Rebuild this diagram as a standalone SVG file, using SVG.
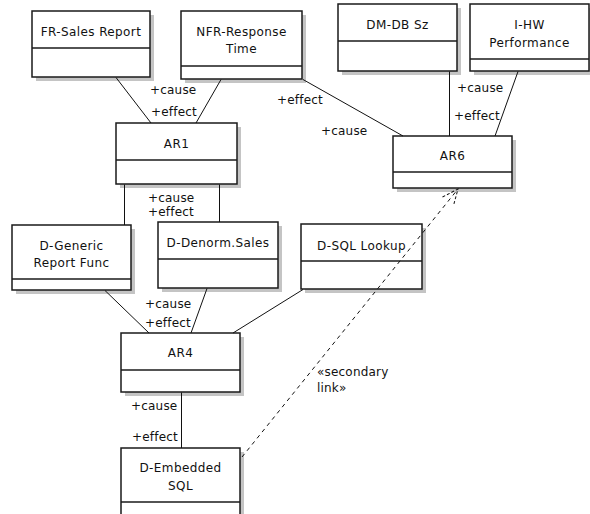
<svg xmlns="http://www.w3.org/2000/svg" width="590" height="514" viewBox="0 0 590 514">
<defs>
<style>
.sh{fill:#c4c4c4;stroke:none}
.bx{fill:#fff;stroke:#1a1a1a;stroke-width:1.5}
.dv{stroke:#1a1a1a;stroke-width:1.5}
.t{font-family:"DejaVu Sans",sans-serif;font-size:12px;letter-spacing:0.4px;fill:#111;text-anchor:middle}
.l{font-family:"DejaVu Sans",sans-serif;font-size:12px;letter-spacing:0.2px;fill:#111}
.c{stroke:#111;stroke-width:1;fill:none}
.d{stroke:#111;stroke-width:1;fill:none;stroke-dasharray:4,4}
</style>
<marker id="open" viewBox="0 0 20 20" refX="18" refY="10" markerWidth="20" markerHeight="20" markerUnits="userSpaceOnUse" orient="auto">
<path d="M2,3 L18,10 L2,17" fill="none" stroke="#111" stroke-width="1" stroke-dasharray="3,2"/>
</marker>
</defs>
<rect width="590" height="514" fill="#fff"/>
<g id="FR">
<rect class="sh" x="36" y="15" width="118" height="66"/>
<rect class="bx" x="32" y="11" width="118" height="66"/>
<line class="dv" x1="32" y1="48" x2="150" y2="48"/>
<text class="t" x="91" y="36">FR-Sales Report</text>
</g>
<g id="NFR">
<rect class="sh" x="185" y="15" width="121" height="68"/>
<rect class="bx" x="181" y="11" width="121" height="68"/>
<line class="dv" x1="181" y1="66" x2="302" y2="66"/>
<text class="t" x="241.5" y="36">NFR-Response</text>
<text class="t" x="241.5" y="53">Time</text>
</g>
<g id="DM">
<rect class="sh" x="342" y="8" width="119" height="67"/>
<rect class="bx" x="338" y="4" width="119" height="67"/>
<line class="dv" x1="338" y1="41" x2="457" y2="41"/>
<text class="t" x="397.5" y="29">DM-DB Sz</text>
</g>
<g id="IHW">
<rect class="sh" x="474" y="8" width="119" height="67"/>
<rect class="bx" x="470" y="4" width="119" height="67"/>
<line class="dv" x1="470" y1="59" x2="589" y2="59"/>
<text class="t" x="529.5" y="29">I-HW</text>
<text class="t" x="529.5" y="47">Performance</text>
</g>
<g id="AR1">
<rect class="sh" x="120" y="127" width="121" height="61"/>
<rect class="bx" x="116" y="123" width="121" height="61"/>
<line class="dv" x1="116" y1="160" x2="237" y2="160"/>
<text class="t" x="176.5" y="148">AR1</text>
</g>
<g id="AR6">
<rect class="sh" x="397" y="140" width="119" height="52"/>
<rect class="bx" x="393" y="136" width="119" height="52"/>
<line class="dv" x1="393" y1="172" x2="512" y2="172"/>
<text class="t" x="452.5" y="160">AR6</text>
</g>
<g id="DGeneric">
<rect class="sh" x="16" y="229" width="119" height="65"/>
<rect class="bx" x="12" y="225" width="119" height="65"/>
<line class="dv" x1="12" y1="279" x2="131" y2="279"/>
<text class="t" x="71.5" y="250">D-Generic</text>
<text class="t" x="71.5" y="267">Report Func</text>
</g>
<g id="DDenorm">
<rect class="sh" x="162" y="226" width="120" height="66"/>
<rect class="bx" x="158" y="222" width="120" height="66"/>
<line class="dv" x1="158" y1="259" x2="278" y2="259"/>
<text class="t" x="218" y="247">D-Denorm.Sales</text>
</g>
<g id="DSQL">
<rect class="sh" x="305" y="228" width="121" height="65"/>
<rect class="bx" x="301" y="224" width="121" height="65"/>
<line class="dv" x1="301" y1="261" x2="422" y2="261"/>
<text class="t" x="361.5" y="250">D-SQL Lookup</text>
</g>
<g id="AR4">
<rect class="sh" x="125" y="337" width="119" height="59"/>
<rect class="bx" x="121" y="333" width="119" height="59"/>
<line class="dv" x1="121" y1="370" x2="240" y2="370"/>
<text class="t" x="180.5" y="357">AR4</text>
</g>
<g id="DEmbedded">
<rect class="sh" x="125" y="452" width="119" height="70"/>
<rect class="bx" x="121" y="448" width="119" height="70"/>
<line class="dv" x1="121" y1="502" x2="240" y2="502"/>
<text class="t" x="180.5" y="472">D-Embedded</text>
<text class="t" x="180.5" y="490">SQL</text>
</g>
<g id="connectors">
<line class="c" x1="116" y1="77.5" x2="151" y2="123"/>
<line class="c" x1="221" y1="79.5" x2="196" y2="123"/>
<line class="c" x1="303" y1="79.5" x2="403" y2="136"/>
<line class="c" x1="449.5" y1="71.5" x2="449.5" y2="136"/>
<line class="c" x1="518" y1="71.5" x2="495" y2="136"/>
<line class="c" x1="124.5" y1="184.5" x2="124.5" y2="225"/>
<line class="c" x1="219.5" y1="184.5" x2="219.5" y2="222"/>
<line class="c" x1="105" y1="290.5" x2="149" y2="333"/>
<line class="c" x1="207" y1="288.5" x2="191" y2="333"/>
<line class="c" x1="303" y1="289.5" x2="233" y2="333"/>
<line class="c" x1="181.5" y1="392.5" x2="181.5" y2="448"/>
<line class="d" x1="242" y1="457" x2="458" y2="189" marker-end="url(#open)"/>
<text class="l" x="150" y="94">+cause</text>
<text class="l" x="151" y="116">+effect</text>
<text class="l" x="277" y="104">+effect</text>
<text class="l" x="321" y="135">+cause</text>
<text class="l" x="457" y="92">+cause</text>
<text class="l" x="454" y="120">+effect</text>
<text class="l" x="148" y="202">+cause</text>
<text class="l" x="148" y="216">+effect</text>
<text class="l" x="145" y="308">+cause</text>
<text class="l" x="145" y="327">+effect</text>
<text class="l" x="131" y="410">+cause</text>
<text class="l" x="132" y="441">+effect</text>
<text class="l" x="317" y="376">«secondary</text>
<text class="l" x="317" y="392">link»</text>
</g>
</svg>
